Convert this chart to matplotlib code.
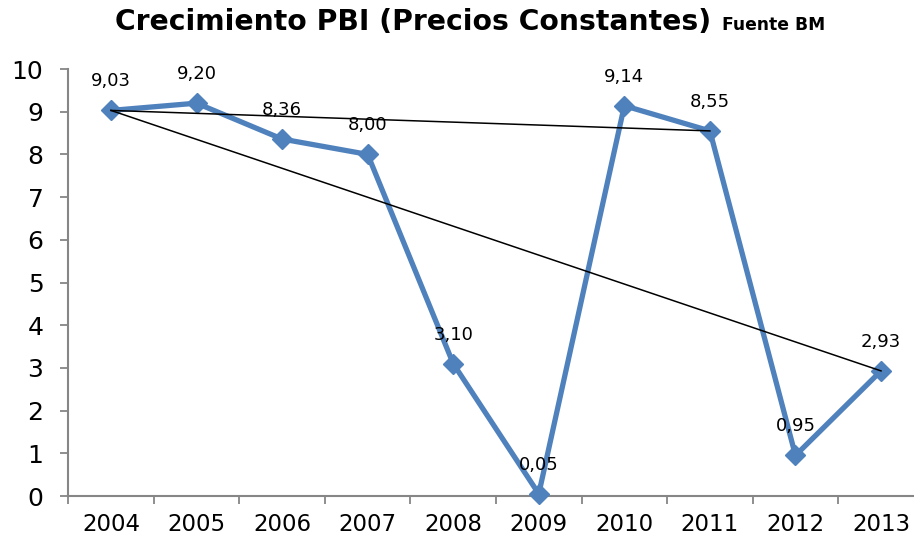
import matplotlib
matplotlib.use("Agg")
import matplotlib.pyplot as plt

years = ["2004", "2005", "2006", "2007", "2008", "2009", "2010", "2011", "2012", "2013"]
growth = [9.03, 9.20, 8.36, 8.00, 3.10, 0.05, 9.14, 8.55, 0.95, 2.93]
labels = ["9,03", "9,20", "8,36", "8,00", "3,10", "0,05", "9,14", "8,55", "0,95", "2,93"]
trend_a = [("2004", 9.03), ("2011", 8.55)]
trend_b = [("2004", 9.03), ("2013", 2.93)]
yticks = [0, 1, 2, 3, 4, 5, 6, 7, 8, 9, 10]

W, H = 914, 541
fig = plt.figure(figsize=(W / 100, H / 100), dpi=100)
plt.rcParams['font.family'] = ['DejaVu Sans']

left, right = 68.2, 68.2 + 10 * 85.56
bottom, top = 496, 69
ax = fig.add_axes([left / W, (H - bottom) / H, (right - left) / W, (bottom - top) / H])

x = list(range(len(years)))
blue = "#4F81BD"
ax.plot(x, growth, color=blue, lw=3.8, marker="D", ms=10.5, zorder=3, clip_on=False,
        solid_joinstyle="miter")

for t in (trend_a, trend_b):
    xs = [years.index(p[0]) for p in t]
    ys = [p[1] for p in t]
    ax.plot(xs, ys, color="black", lw=1.1, zorder=4, clip_on=False)

for xi, yi, lab in zip(x, growth, labels):
    ax.annotate(lab, (xi, yi), xytext=(0, 20), textcoords="offset pixels",
                ha="center", va="bottom", fontsize=13, color="black", zorder=5)

ax.set_xlim(-0.5, len(years) - 0.5)
ax.set_ylim(0, 10)
ax.set_yticks(yticks)
ax.set_yticklabels([str(v) for v in yticks])

ax.set_xticks([i - 0.5 for i in range(len(years) + 1)])
ax.set_xticklabels([])
ax.set_xticks(x, minor=True)
ax.set_xticklabels(years, minor=True)
ax.tick_params(axis="x", which="minor", length=0, pad=12, labelsize=16.5)
ax.tick_params(axis="x", which="major", length=5.8, width=1.3, color="#868686", direction="out")
ax.tick_params(axis="y", length=5.8, width=1.3, color="#868686", labelsize=18, pad=12)

for s in ("top", "right"):
    ax.spines[s].set_visible(False)
for s in ("left", "bottom"):
    ax.spines[s].set_color("#868686")
    ax.spines[s].set_linewidth(1.5)

fig.text(711 / W, 1 - 30 / H, "Crecimiento PBI (Precios Constantes)", ha="right", va="baseline",
         fontsize=20.3, fontweight="bold")
fig.text(722 / W, 1 - 30 / H, "Fuente BM", ha="left", va="baseline",
         fontsize=12.3, fontweight="bold")

fig.savefig("out.png", dpi=100)
